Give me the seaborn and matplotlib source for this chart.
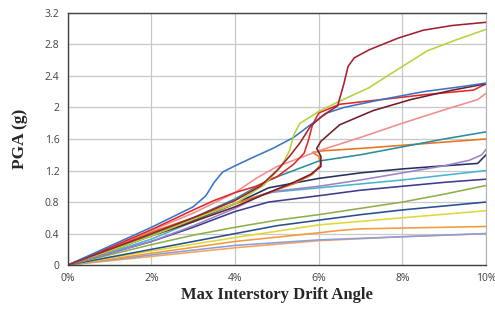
import numpy as np
import pandas as pd
import matplotlib
matplotlib.use("Agg")
import matplotlib.pyplot as plt
import seaborn as sns
from matplotlib.ticker import FuncFormatter

# IDA curves: (max interstory drift %, PGA g)
gm01 = [(0, 0), (1, 0.2), (2, 0.4), (3, 0.6), (4, 0.82), (4.6, 1.0), (5.0, 1.2), (5.3, 1.38),
        (5.55, 1.55), (5.8, 1.76), (6.1, 1.9), (6.45, 2.02), (6.6, 2.3), (6.7, 2.52),
        (6.85, 2.63), (7.2, 2.73), (7.9, 2.88), (8.5, 2.98), (9.2, 3.04), (10, 3.08)]
gm02 = [(0, 0), (1, 0.18), (2, 0.37), (3, 0.58), (4, 0.78), (4.7, 1.02), (5.1, 1.25), (5.3, 1.45),
        (5.4, 1.65), (5.55, 1.8), (5.8, 1.88), (6.0, 1.95), (6.5, 2.08), (7.2, 2.25), (7.7, 2.42),
        (8.6, 2.72), (9.3, 2.86), (10, 2.99)]
gm03 = [(0, 0), (1, 0.24), (2, 0.48), (3, 0.74), (3.3, 0.88), (3.5, 1.05), (3.7, 1.18), (4, 1.26),
        (4.4, 1.36), (4.9, 1.48), (5.4, 1.62), (5.8, 1.78), (6.2, 1.93), (6.6, 2.0), (7.5, 2.1),
        (8.5, 2.2), (9.5, 2.27), (10, 2.31)]
gm04 = [(0, 0), (1, 0.18), (2, 0.37), (3, 0.55), (4, 0.74), (4.8, 0.92), (5.4, 1.05), (5.8, 1.15),
        (6.05, 1.25), (6.05, 1.38), (5.95, 1.48), (6.05, 1.57), (6.5, 1.78), (7.3, 1.96),
        (8.2, 2.1), (9.2, 2.22), (10, 2.3)]
gm05 = [(0, 0), (1, 0.22), (2, 0.45), (3, 0.7), (3.5, 0.82), (4, 0.92), (4.5, 1.0), (5.0, 1.12),
        (5.4, 1.28), (5.65, 1.42), (5.75, 1.58), (5.85, 1.78), (6.0, 1.93), (6.5, 2.04),
        (7.5, 2.1), (8.5, 2.16), (9.7, 2.22), (10, 2.3)]
gm06 = [(0, 0), (1, 0.22), (2, 0.44), (3, 0.66), (4, 0.92), (4.5, 1.1), (5, 1.25), (6, 1.45),
        (7, 1.62), (8, 1.8), (9, 1.97), (9.8, 2.1), (10, 2.18)]
gm07 = [(0, 0), (1, 0.19), (2, 0.38), (3, 0.6), (4, 0.84), (4.8, 1.08), (5.5, 1.22), (6, 1.32),
        (7, 1.4), (8, 1.5), (9, 1.6), (10, 1.69)]
gm08 = [(0, 0), (1, 0.21), (2, 0.42), (3, 0.6), (4, 0.78), (4.8, 0.92), (5.4, 1.03), (5.85, 1.15),
        (6.05, 1.28), (6.0, 1.38), (5.85, 1.43), (6.1, 1.45), (7, 1.48), (8, 1.52), (9, 1.56),
        (10, 1.6)]
gm09 = [(0, 0), (1, 0.15), (2, 0.3), (3, 0.5), (4, 0.72), (4.6, 0.88), (5, 0.94), (6, 1.0),
        (7, 1.08), (8, 1.17), (9, 1.26), (9.6, 1.33), (9.9, 1.4), (10, 1.47)]
gm10 = [(0, 0), (1, 0.19), (2, 0.38), (3, 0.57), (4, 0.78), (4.8, 0.98), (6, 1.1), (7, 1.17),
        (8, 1.22), (9, 1.26), (9.8, 1.29), (10, 1.4)]
gm11 = [(0, 0), (1, 0.16), (2, 0.33), (3, 0.55), (4, 0.78), (4.8, 0.92), (6, 0.98), (7, 1.03),
        (8, 1.08), (9, 1.14), (10, 1.2)]
gm12 = [(0, 0), (1, 0.15), (2, 0.3), (3, 0.48), (4, 0.68), (4.8, 0.8), (6, 0.88), (7, 0.95),
        (8, 1.0), (9, 1.05), (10, 1.09)]
gm13 = [(0, 0), (1, 0.13), (2, 0.26), (3, 0.38), (4, 0.48), (5, 0.57), (6, 0.64), (7, 0.72),
        (8, 0.8), (9, 0.9), (10, 1.01)]
gm14 = [(0, 0), (1, 0.1), (2, 0.2), (3, 0.3), (4, 0.4), (5, 0.5), (6, 0.57), (7, 0.64),
        (8, 0.7), (9, 0.75), (10, 0.8)]
gm15 = [(0, 0), (2, 0.18), (4, 0.35), (6, 0.51), (8, 0.6), (10, 0.69)]
gm16 = [(0, 0), (2, 0.15), (4, 0.3), (6, 0.41), (6.5, 0.44), (7, 0.46), (8, 0.47), (10, 0.49)]
gm17 = [(0, 0), (2, 0.13), (4, 0.25), (6, 0.32), (8, 0.36), (10, 0.4)]
gm18 = [(0, 0), (2, 0.11), (4, 0.22), (6, 0.31), (8, 0.36), (10, 0.4)]

curves = [gm01, gm02, gm03, gm04, gm05, gm06, gm07, gm08, gm09,
          gm10, gm11, gm12, gm13, gm14, gm15, gm16, gm17, gm18]
colors = ['#A3202F', '#B4D33A', '#3A75C4', '#6E1E2B', '#E0282A', '#F08C8C',
          '#2C8C9C', '#E8731C', '#9B83C6', '#22305E', '#4BB4CF', '#3E3C8E',
          '#8DB04A', '#2A4F8C', '#E2D73A', '#F39A3C', '#8A9EDB', '#F5A55A']

x_ticks = [0, 2, 4, 6, 8, 10]
y_ticks = [0, 0.4, 0.8, 1.2, 1.6, 2.0, 2.4, 2.8, 3.2]

sns.set_style("whitegrid")
fig = plt.figure(figsize=(4.95, 3.13), dpi=100)
ax = fig.add_axes([0.137, 0.153, 0.845, 0.806])

# draw the lowest records first so the strong ones sit on top
for pts, col in list(zip(curves, colors))[::-1]:
    df = pd.DataFrame(pts, columns=["drift", "pga"])
    sns.lineplot(data=df, x="drift", y="pga", sort=False, estimator=None,
                 color=col, linewidth=1.15, ax=ax)

ax.set_xlim(0, 10)
ax.set_ylim(0, 3.2)
ax.set_xticks(x_ticks)
ax.set_yticks(y_ticks)
ax.xaxis.set_major_formatter(FuncFormatter(lambda v, p: f"{v:.0f}%"))
ax.yaxis.set_major_formatter(FuncFormatter(lambda v, p: f"{v:g}"))
ax.tick_params(axis="both", labelsize=7.5, colors="#404040", length=0, pad=6)
for lab in ax.get_xticklabels() + ax.get_yticklabels():
    lab.set_family("Open Sans")

ax.grid(True, color="#C8C8C8", linewidth=0.9)
for side in ["left", "bottom", "top"]:
    ax.spines[side].set_color("#404040")
    ax.spines[side].set_linewidth(1.0)
ax.spines["right"].set_color("#B0B0B0")

ax.set_xlabel("Max Interstory Drift Angle", family="Liberation Serif",
              fontweight="bold", fontsize=12, labelpad=2)
ax.set_ylabel("PGA (g)", family="Liberation Serif", fontweight="bold",
              fontsize=12.5, labelpad=12)

fig.savefig("out.png", dpi=100)
